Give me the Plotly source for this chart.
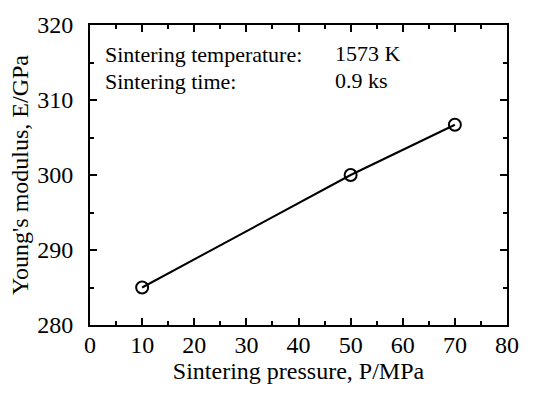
import plotly.graph_objects as go

pressure = [10, 50, 70]
modulus = [285.0, 300.0, 306.7]
x_ticks = [0, 10, 20, 30, 40, 50, 60, 70, 80]
y_ticks = [280, 290, 300, 310, 320]

FONT = "Liberation Serif"
FS = 24
AFS = 22

fig = go.Figure()
fig.add_trace(go.Scatter(
    x=pressure, y=modulus, mode="lines+markers",
    line=dict(color="black", width=2),
    marker=dict(symbol="circle-open", size=12, color="black", line=dict(width=2)),
    showlegend=False,
))

axis_common = dict(
    showline=True, linecolor="black", linewidth=2, mirror="ticks",
    ticks="inside", ticklen=7, tickwidth=1.5, tickcolor="black",
    showgrid=False, zeroline=False,
    tickfont=dict(family=FONT, size=FS, color="black"),
    minor=dict(ticks="inside", ticklen=4, tickwidth=1.5, tickcolor="black"),
)

fig.update_xaxes(range=[0, 80], tickvals=x_ticks,
                 title=dict(text="Sintering pressure, P/MPa", font=dict(family=FONT, size=FS, color="black"), standoff=2),
                 ticklabelstandoff=-3,
                 **axis_common)
fig.update_yaxes(range=[280, 320], tickvals=y_ticks,
                 title=dict(text="Young's modulus, E/GPa", font=dict(family=FONT, size=FS, color="black"), standoff=2),
                 ticklabelstandoff=10,
                 **axis_common)
fig.update_xaxes(minor=dict(dtick=5))
fig.update_yaxes(minor=dict(dtick=5))

fig.add_annotation(x=0.031, y=0.9, xref="paper", yref="paper", xanchor="left", yanchor="middle",
                   text="Sintering temperature:", showarrow=False,
                   font=dict(family=FONT, size=AFS, color="black"))
fig.add_annotation(x=0.583, y=0.905, xref="paper", yref="paper", xanchor="left", yanchor="middle",
                   text="1573 K", showarrow=False,
                   font=dict(family=FONT, size=AFS, color="black"))
fig.add_annotation(x=0.031, y=0.81, xref="paper", yref="paper", xanchor="left", yanchor="middle",
                   text="Sintering time:", showarrow=False,
                   font=dict(family=FONT, size=AFS, color="black"))
fig.add_annotation(x=0.583, y=0.815, xref="paper", yref="paper", xanchor="left", yanchor="middle",
                   text="0.9 ks", showarrow=False,
                   font=dict(family=FONT, size=AFS, color="black"))

fig.update_layout(
    width=534, height=396,
    margin=dict(l=90, r=27, t=25, b=71),
    paper_bgcolor="white", plot_bgcolor="white",
)
fig.write_html("out.html")
